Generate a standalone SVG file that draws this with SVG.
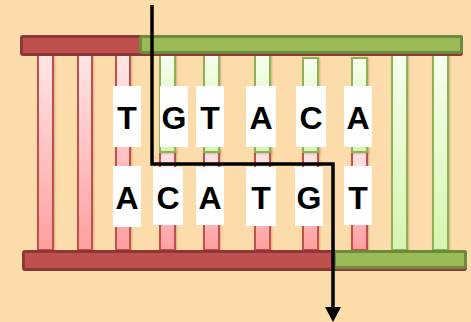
<svg xmlns="http://www.w3.org/2000/svg" width="471" height="322" viewBox="0 0 471 322">
  <defs>
    <linearGradient id="pinkFill" x1="0" y1="0" x2="0" y2="1">
      <stop offset="0" stop-color="#FFE6E6"/>
      <stop offset="1" stop-color="#FF9F9F"/>
    </linearGradient>
    <linearGradient id="greenFill" x1="0" y1="0" x2="0" y2="1">
      <stop offset="0" stop-color="#F6FFEE"/>
      <stop offset="1" stop-color="#D6F5AE"/>
    </linearGradient>
    <filter id="soft" x="-50%" y="-10%" width="200%" height="120%">
      <feDropShadow dx="1" dy="1" stdDeviation="1.2" flood-color="#8a5a30" flood-opacity="0.35"/>
    </filter>
    <marker id="arrowHead" markerUnits="userSpaceOnUse" markerWidth="16" markerHeight="16" refX="0" refY="8" orient="auto" viewBox="0 0 16 16">
      <path d="M0 0 L15 8 L0 16 Z" fill="#000"/>
    </marker>
    <style>
      .redRung { fill: url(#pinkFill); stroke: #C0504D; stroke-width: 2; filter: url(#soft); }
      .greenRung { fill: url(#greenFill); stroke: #8DB255; stroke-width: 2; filter: url(#soft); }
      .redBar { fill: #C0504D; stroke: #8C3836; stroke-width: 3; }
      .greenBar { fill: #9BBB59; stroke: #6E8A3C; stroke-width: 3; }
      .box { fill: #FFFFFF; }
      .base { font-family: "Liberation Sans", Arial, sans-serif; font-weight: bold; font-size: 32px; fill: #000; text-anchor: middle; }
      .path { fill: none; stroke: #000; stroke-width: 3.5; }
    </style>
  </defs>

  <!-- background -->
  <rect width="471" height="322" fill="#FDDCAB"/>

  <!-- rungs: full-length red ones on the left -->
  <g id="rung1"><rect class="redRung" x="38" y="54" width="15" height="196"/></g>
  <g id="rung2"><rect class="redRung" x="78" y="54" width="14" height="196"/></g>
  <g id="rung3"><rect class="redRung" x="116" y="54" width="14" height="196"/></g>

  <!-- split rungs: green half on top, red half below -->
  <g id="rung4">
    <rect class="redRung" x="160" y="150" width="15" height="100"/>
    <rect class="greenRung" x="160" y="54" width="15" height="98"/>
  </g>
  <g id="rung5">
    <rect class="redRung" x="204" y="150" width="15" height="100"/>
    <rect class="greenRung" x="204" y="54" width="15" height="98"/>
  </g>
  <g id="rung6">
    <rect class="redRung" x="255" y="150" width="15" height="100"/>
    <rect class="greenRung" x="255" y="55" width="15" height="97"/>
  </g>
  <g id="rung7">
    <rect class="redRung" x="303" y="150" width="15" height="100"/>
    <rect class="greenRung" x="303" y="58" width="15" height="94"/>
  </g>
  <g id="rung8">
    <rect class="redRung" x="352" y="150" width="15" height="100"/>
    <rect class="greenRung" x="352" y="58" width="15" height="94"/>
  </g>

  <!-- full-length green rungs on the right -->
  <g id="rung9"><rect class="greenRung" x="392" y="54" width="15" height="196"/></g>
  <g id="rung10"><rect class="greenRung" x="433" y="54" width="15" height="196"/></g>

  <!-- backbones -->
  <g id="topStrand">
    <rect class="redBar" x="21.5" y="36.5" width="440" height="18" rx="1.5"/>
    <rect class="greenBar" x="140.5" y="36.5" width="321" height="16" rx="1.5"/>
  </g>
  <g id="bottomStrand">
    <rect class="redBar" x="23.5" y="251.5" width="442" height="18" rx="1.5"/>
    <rect class="greenBar" x="334.5" y="251.5" width="131" height="16" rx="1.5"/>
  </g>

  <!-- base letters, top row -->
  <g id="topT1"><rect class="box" x="113" y="86" width="28" height="61"/><text class="base" x="127" y="129">T</text></g>
  <g id="topG"><rect class="box" x="160" y="86" width="28" height="61"/><text class="base" x="174" y="129">G</text></g>
  <g id="topT2"><rect class="box" x="196" y="86" width="28" height="61"/><text class="base" x="210" y="129">T</text></g>
  <g id="topA1"><rect class="box" x="246" y="86" width="30" height="61"/><text class="base" x="261" y="129">A</text></g>
  <g id="topC"><rect class="box" x="296" y="86" width="30" height="61"/><text class="base" x="311" y="129">C</text></g>
  <g id="topA2"><rect class="box" x="344" y="86" width="28" height="61"/><text class="base" x="358" y="129">A</text></g>

  <!-- base letters, bottom row -->
  <g id="botA1"><rect class="box" x="113" y="166" width="28" height="61"/><text class="base" x="127" y="209">A</text></g>
  <g id="botC"><rect class="box" x="153" y="167" width="30" height="58"/><text class="base" x="168" y="209">C</text></g>
  <g id="botA2"><rect class="box" x="196" y="167" width="28" height="58"/><text class="base" x="210" y="209">A</text></g>
  <g id="botT1"><rect class="box" x="246" y="167" width="30" height="59"/><text class="base" x="261" y="209">T</text></g>
  <g id="botG"><rect class="box" x="295" y="167" width="28" height="59"/><text class="base" x="309" y="209">G</text></g>
  <g id="botT2"><rect class="box" x="344" y="166" width="28" height="59"/><text class="base" x="358" y="209">T</text></g>

  <!-- staggered cut line -->
  <g id="connectors">
    <path class="path" d="M152 5 V164 H333 V307" marker-end="url(#arrowHead)"/>
  </g>
</svg>
